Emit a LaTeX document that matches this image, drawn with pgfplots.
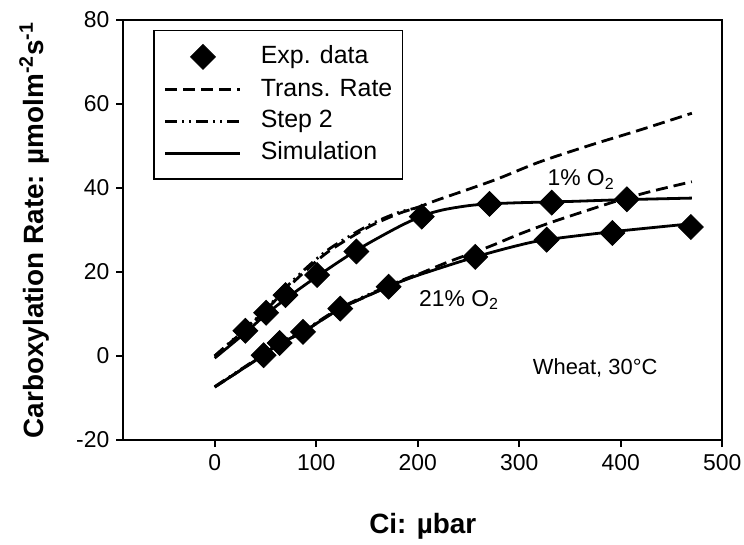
\documentclass[border=0pt]{standalone}
\usepackage{fontspec}
\setmainfont{Liberation Sans}
\usepackage{pgfplots}
\pgfplotsset{compat=1.18}

% measured data, Ci (ubar) vs carboxylation rate
\pgfplotstableread{
x y
30.2 6.0
50.6 10.3
69.7 14.5
100.9 19.3
139.6 24.9
204 33.2
270.7 36.2
332 36.5
406 37.3
}\expone
\pgfplotstableread{
x y
48.2 0.2
64 3.1
87 5.75
123.7 11.3
171.3 16.5
256.6 23.6
327 27.7
391.7 29.3
469 30.7
}\exptwentyone

\begin{document}
\begin{tikzpicture}
\begin{axis}[
  scale only axis, width=299.5bp, height=210bp,
  xmin=-90, xmax=500, ymin=-20, ymax=80,
  xtick={0,100,...,500}, ytick={-20,0,...,80},
  tick pos=left, tick align=outside, major tick length=3.5bp,
  axis line style={line width=1bp},
  every tick/.style={line width=1bp, black},
  tick label style={font=\fontsize{11.5}{13}\selectfont},
  /pgf/number format/assume math mode=true,
  label style={font=\fontsize{14}{16}\selectfont\bfseries},
  xlabel={Ci: µbar},
  ylabel={Carboxylation Rate: µmolm\textsuperscript{-2}s\textsuperscript{-1}},
  xlabel style={at={(axis description cs:0.5,-0.2214)}, anchor=base},
  ylabel style={at={(axis description cs:-0.149,0.5)}, anchor=center},
  legend style={at={(axis description cs:0.05,0.977)}, anchor=north west,
    draw=black, line width=0.8bp, font=\fontsize{12.5}{15}\selectfont,
    inner xsep=5bp, inner ysep=7bp, row sep=4.4bp, column sep=9.5bp,
    cells={anchor=west},
    nodes={inner xsep=0pt, inner ysep=0pt, text height=9bp, text depth=2.5bp}},
  legend image code/.code={\draw[mark repeat=2,mark phase=2,#1]
    plot coordinates {(0bp,0bp) (18.75bp,0bp) (37.5bp,0bp)};},
  dia/.style={only marks, mark=square*, mark size=4.4bp,
    mark options={solid, fill=black, draw=black, rotate=45, line width=0.4bp}},
  trans/.style={black, line width=1.4bp, dash pattern=on 6bp off 3bp},
  steptwo/.style={black, line width=1.4bp,
    dash pattern=on 6bp off 2.5bp on 1bp off 2.5bp on 1bp off 2.5bp},
  sim/.style={black, line width=1.4bp},
]
\addlegendimage{dia}
\addlegendimage{trans}
\addlegendimage{steptwo}
\addlegendimage{sim}
\legend{Exp. data, Trans. Rate, Step 2, Simulation}

% 1% O2
\addplot[trans, smooth, forget plot] coordinates {
(0,0) (30,6.3) (50,10.8) (75,17) (110,24.5) (150,30.5) (180,33.8) (200,35.4)
(220,37.2) (250,39.7) (280,42.3) (320,46.2) (370,50.2) (420,53.9) (470,57.8)};
\addplot[steptwo, smooth, forget plot] coordinates {
(0,0) (30,6.5) (50,11) (75,17.5) (110,25) (150,30.9) (180,34.1) (200,35.3)};
\addplot[sim, smooth, forget plot] coordinates {
(0,-0.5) (30,5.5) (50,9.8) (70,13.6) (100,18.8) (140,25.2) (180,30.6) (205,33.4)
(225,34.8) (250,35.8) (270,36.2) (300,36.5) (350,36.8) (400,37.2) (470,37.6)};

% 21% O2
\addplot[trans, smooth, forget plot] coordinates {
(0,-7.4) (48,0.2) (64,3) (87,5.7) (124,11.3) (171,16.5) (200,19.4) (230,22.4)
(270,26) (300,29) (330,31.7) (370,34.9) (400,37.2) (430,39.2) (470,41.5)};
\addplot[steptwo, smooth, forget plot] coordinates {
(0,-7.3) (48,0.4) (64,3.2) (87,5.9) (124,11.5) (171,16.7) (200,19.5)};
\addplot[sim, smooth, forget plot] coordinates {
(0,-7.4) (48,0.2) (64,3) (87,5.7) (124,11.3) (171,16.5) (200,19.2) (257,23.6)
(300,26.4) (327,27.7) (392,29.6) (470,31.5)};

\addplot[dia, forget plot] table[x=x, y=y] {\expone};
\addplot[dia, forget plot] table[x=x, y=y] {\exptwentyone};

\node[anchor=base west, font=\fontsize{11.5}{13}\selectfont] at (axis cs:320.9,40.6) {1\% O\textsubscript{2}};
\node[anchor=base west, font=\fontsize{11.5}{13}\selectfont] at (axis cs:194.5,11.9) {21\% O\textsubscript{2}};
\node[anchor=base east, font=\fontsize{11}{13}\selectfont] at (axis cs:443,-4.3) {Wheat, 30°C};
\end{axis}
\pgfresetboundingbox
\path ([xshift=-61.65bp,yshift=-52bp]current axis.south west)
  rectangle ([xshift=10.85bp,yshift=10bp]current axis.north east);
\end{tikzpicture}
\end{document}
